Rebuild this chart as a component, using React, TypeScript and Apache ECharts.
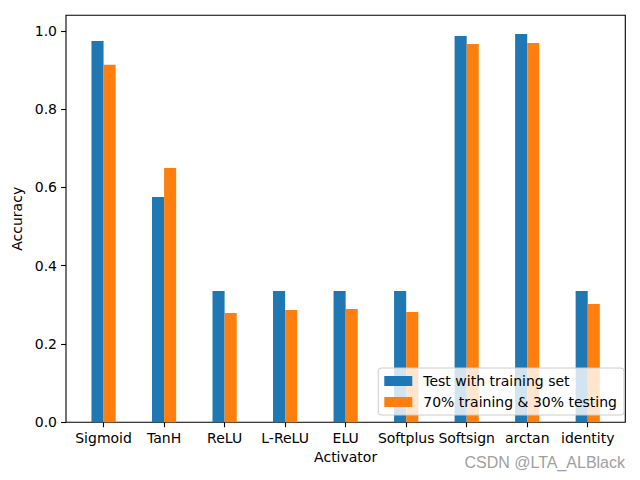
import React, { useEffect, useRef } from "react";
import * as echarts from "echarts";

const categories = ["Sigmoid", "TanH", "ReLU", "L-ReLU", "ELU", "Softplus", "Softsign", "arctan", "identity"];
const trainSet = [0.974, 0.5755, 0.3354, 0.3354, 0.3354, 0.3354, 0.9867, 0.992, 0.3354];
const splitTest = [0.913, 0.6496, 0.279, 0.287, 0.2895, 0.2817, 0.966, 0.969, 0.302];
const yTicks = [0, 0.2, 0.4, 0.6, 0.8, 1.0];
const seriesNames = ["Test with training set", "70% training & 30% testing"];

const FONT = "DejaVu Sans";
const Y_MAX = 1.0396;

export default function App() {
  const ref = useRef<HTMLDivElement>(null);
  useEffect(() => {
    document.body.style.margin = "0";
    const chart = echarts.init(ref.current!, null, { renderer: "svg" });
    chart.setOption({
      animation: false,
      backgroundColor: "#fff",
      textStyle: { fontFamily: FONT },
      grid: [
        { left: 66, right: 14.7, top: 15.3, bottom: 57.7, show: true, borderColor: "#000", borderWidth: 1.1, backgroundColor: "transparent" },
        { left: 73.3, right: 22, top: 15.3, bottom: 57.7 },
      ],
      xAxis: [
        { type: "value", gridIndex: 0, show: false, min: 0, max: 1 },
        {
          type: "category",
          gridIndex: 1,
          data: categories,
          axisLine: { show: false },
          axisTick: { show: true, alignWithLabel: true, length: 4.9, lineStyle: { color: "#000", width: 1.1 } },
          axisLabel: { color: "#000", fontSize: 14, fontFamily: FONT, margin: 9, interval: 0 },
          name: "Activator",
          nameLocation: "middle",
          nameGap: 27,
          nameTextStyle: { color: "#000", fontSize: 14, fontFamily: FONT },
        },
      ],
      yAxis: [
        {
          type: "value",
          gridIndex: 0,
          min: 0,
          max: Y_MAX,
          axisLine: { show: false },
          splitLine: { show: false },
          axisTick: { show: true, length: 4.9, customValues: yTicks, lineStyle: { color: "#000", width: 1.1 } },
          axisLabel: {
            color: "#000",
            fontSize: 14,
            fontFamily: FONT,
            margin: 9,
            customValues: yTicks,
            formatter: (v: number) => v.toFixed(1),
          },
          name: "Accuracy",
          nameLocation: "middle",
          nameGap: 33,
          nameRotate: 90,
          nameTextStyle: { color: "#000", fontSize: 14, fontFamily: FONT },
        },
        { type: "value", gridIndex: 1, min: 0, max: Y_MAX, show: false },
      ],
      legend: {
        orient: "vertical",
        right: 16,
        bottom: 65,
        padding: [6, 7, 6, 6],
        itemWidth: 28,
        itemHeight: 10,
        itemGap: 7,
        icon: "rect",
        backgroundColor: "rgba(255,255,255,0.8)",
        borderColor: "#cccccc",
        borderWidth: 1,
        borderRadius: 3,
        textStyle: { color: "#000", fontSize: 14, fontFamily: FONT, padding: [0, 0, 0, 6] },
        data: seriesNames,
      },
      series: [
        {
          name: seriesNames[0],
          type: "bar",
          xAxisIndex: 1,
          yAxisIndex: 1,
          data: trainSet,
          barWidth: 12.1,
          barGap: "0%",
          itemStyle: { color: "#1f77b4" },
          z: 1,
        },
        {
          name: seriesNames[1],
          type: "bar",
          xAxisIndex: 1,
          yAxisIndex: 1,
          data: splitTest,
          barWidth: 12.1,
          barGap: "0%",
          itemStyle: { color: "#ff7f0e" },
          z: 1,
        },
      ],
      graphic: [
        {
          type: "text",
          right: 15,
          top: 454,
          style: { text: "CSDN @LTA_ALBlack", fill: "#a0a0a0", fontSize: 16, fontFamily: "Liberation Sans" },
        },
      ],
    });
    return () => chart.dispose();
  }, []);
  return <div ref={ref} style={{ width: 640, height: 480 }} />;
}
